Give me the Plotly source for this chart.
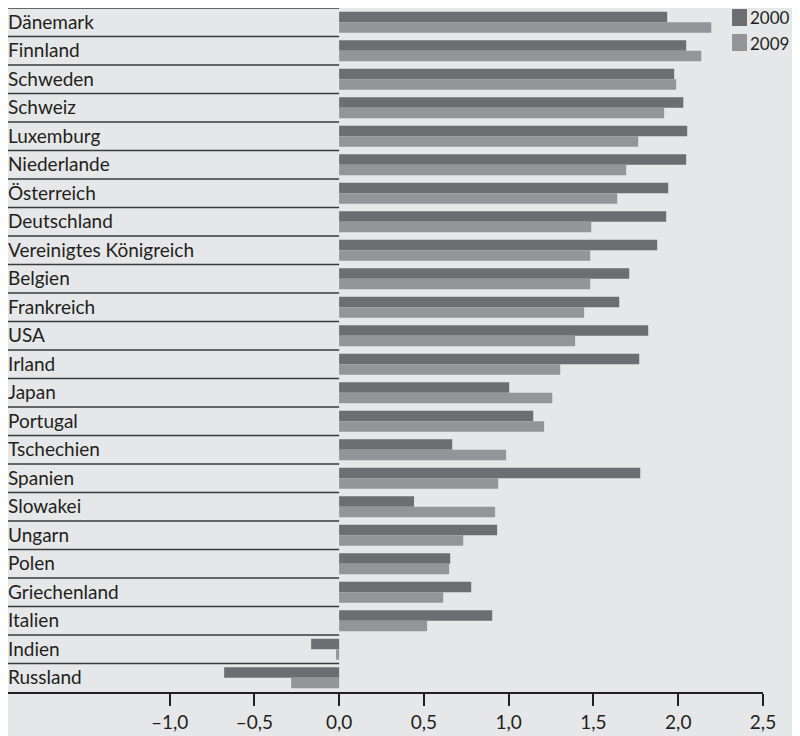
import plotly.graph_objects as go

countries = ["Dänemark", "Finnland", "Schweden", "Schweiz", "Luxemburg", "Niederlande",
             "Österreich", "Deutschland", "Vereinigtes Königreich", "Belgien", "Frankreich",
             "USA", "Irland", "Japan", "Portugal", "Tschechien", "Spanien", "Slowakei",
             "Ungarn", "Polen", "Griechenland", "Italien", "Indien", "Russland"]
v2000 = [1.935, 2.047, 1.976, 2.03, 2.053, 2.047, 1.941, 1.929, 1.876, 1.711, 1.652,
         1.823, 1.77, 1.003, 1.145, 0.667, 1.776, 0.442, 0.932, 0.655, 0.779, 0.903,
         -0.165, -0.678]
v2009 = [2.195, 2.136, 1.988, 1.917, 1.764, 1.693, 1.64, 1.487, 1.481, 1.481, 1.445,
         1.392, 1.304, 1.257, 1.209, 0.985, 0.938, 0.92, 0.732, 0.649, 0.614, 0.519,
         -0.018, -0.283]
series_names = ["2000", "2009"]
tick_vals = [-1.0, -0.5, 0.0, 0.5, 1.0, 1.5, 2.0, 2.5]
tick_text = ["–1,0", "–0,5", "0,0", "0,5", "1,0", "1,5", "2,0", "2,5"]

DARK = "#6d6e71"
LIGHT = "#939598"
BG = "#e6e7e8"
INK = "#231f20"
FONT = "Lato"
FS = 19
XMIN = -1.953

fig = go.Figure()
fig.add_trace(go.Bar(y=countries, x=v2000, orientation="h", name=series_names[0],
                     marker=dict(color=DARK, line=dict(width=0))))
fig.add_trace(go.Bar(y=countries, x=v2009, orientation="h", name=series_names[1],
                     marker=dict(color=LIGHT, line=dict(width=0))))

n = len(countries)
shapes = []
for i in range(n):
    shapes.append(dict(type="line", xref="x", yref="y", x0=XMIN, x1=0,
                       y0=i - 0.5, y1=i - 0.5, line=dict(color="#3b3b3d", width=1.6)))
annotations = []
for c in countries:
    annotations.append(dict(x=XMIN, y=c, xref="x", yref="y", text=c, showarrow=False,
                            xanchor="left", yanchor="middle", xshift=-2, yshift=1,
                            font=dict(family=FONT, size=FS, color=INK)))

# legend drawn as swatches + labels (paper coordinates)
legend_colors = [DARK, LIGHT]
legend_sw_y = [(0.9985, 0.9737), (0.962, 0.9371)]
legend_txt_y = [0.9868, 0.9488]
for name, col, (ya, yb), yt in zip(series_names, legend_colors, legend_sw_y, legend_txt_y):
    shapes.append(dict(type="rect", xref="paper", yref="paper", x0=0.959, x1=0.9788,
                       y0=yb, y1=ya, fillcolor=col, line=dict(width=0)))
    annotations.append(dict(x=0.9815, y=yt, xref="paper", yref="paper", text=name,
                            showarrow=False, xanchor="left", yanchor="middle",
                            borderpad=0,
                            font=dict(family=FONT, size=17, color=INK)))

fig.update_layout(
    width=792, height=728,
    paper_bgcolor=BG, plot_bgcolor=BG,
    margin=dict(l=0, r=37, t=0, b=44, autoexpand=False),
    barmode="group", bargap=0.265, bargroupgap=0,
    font=dict(family=FONT, size=FS, color=INK),
    shapes=shapes, annotations=annotations,
    showlegend=False,
    xaxis=dict(range=[XMIN, 2.5], tickvals=tick_vals, ticktext=tick_text,
               showgrid=False, zeroline=False, showline=True, linecolor=INK, linewidth=1.6,
               ticks="outside", ticklen=12, tickwidth=1.6, tickcolor=INK,
               tickfont=dict(family=FONT, size=FS, color=INK)),
    yaxis=dict(categoryorder="array", categoryarray=countries, range=[n - 0.5, -0.5],
               showticklabels=False, showgrid=False, zeroline=False, showline=False,
               ticks=""),
)

fig.write_html("out.html")
